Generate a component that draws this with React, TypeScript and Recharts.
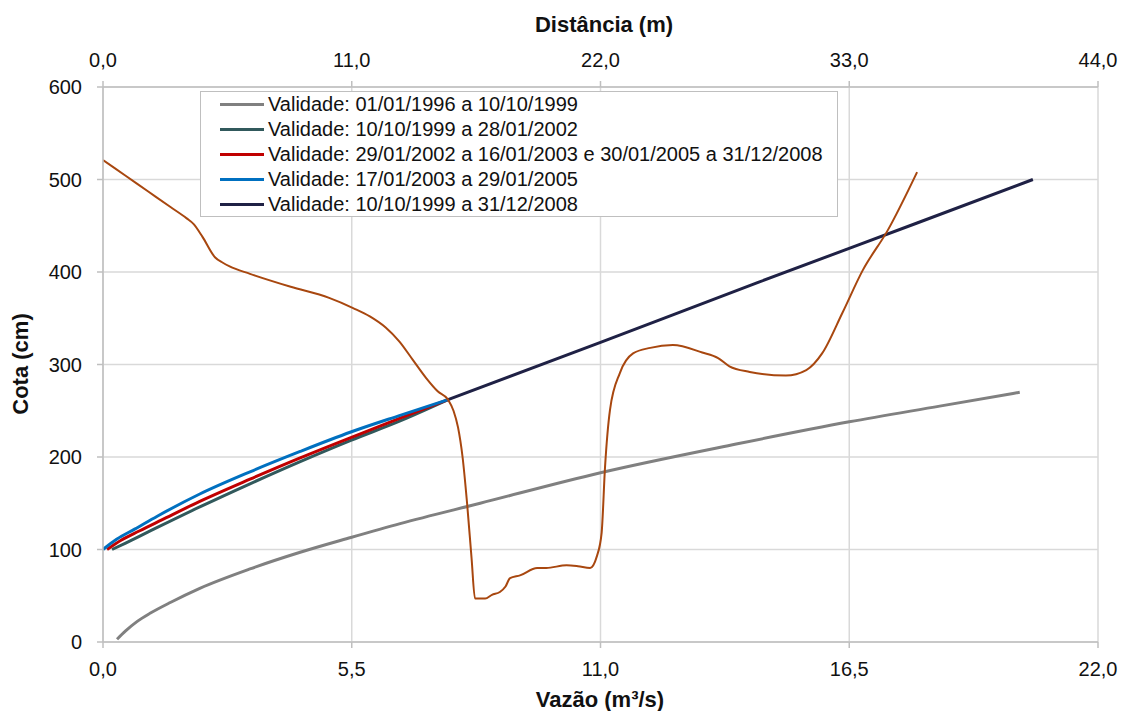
import { LineChart, Line, XAxis, YAxis, CartesianGrid, Legend, Label } from 'recharts'

// rating curves: x = vazão (m³/s), y = cota (cm)
const curve1996 = [
  { x: 0.31, y: 3 }, { x: 0.5, y: 12 }, { x: 0.75, y: 22 }, { x: 1.04, y: 31 },
  { x: 1.5, y: 43 }, { x: 2.14, y: 58 }, { x: 3.25, y: 79 }, { x: 4.36, y: 97 },
  { x: 5.48, y: 113 }, { x: 6.57, y: 128 }, { x: 8.34, y: 150 }, { x: 11.0, y: 183 },
  { x: 14.0, y: 214 }, { x: 16.5, y: 238 }, { x: 18.5, y: 255 }, { x: 20.27, y: 270 },
]
const curve1999 = [
  { x: 0.2, y: 100 }, { x: 0.5, y: 107 }, { x: 1.0, y: 119 }, { x: 2.14, y: 146 },
  { x: 3.25, y: 171 }, { x: 4.36, y: 195 }, { x: 5.48, y: 218 }, { x: 6.57, y: 239 },
  { x: 7.63, y: 262 },
]
const curve2002 = [
  { x: 0.09, y: 100 }, { x: 0.4, y: 110 }, { x: 0.8, y: 120 }, { x: 1.3, y: 132 },
  { x: 2.14, y: 152 }, { x: 3.25, y: 176 }, { x: 4.36, y: 199 }, { x: 5.48, y: 221 },
  { x: 6.57, y: 242 }, { x: 7.63, y: 262 },
]
const curve2003 = [
  { x: 0, y: 100 }, { x: 0.3, y: 111 }, { x: 0.7, y: 122 }, { x: 1.2, y: 136 },
  { x: 2.14, y: 160 }, { x: 3.25, y: 184 }, { x: 4.36, y: 206 }, { x: 5.48, y: 227 },
  { x: 6.57, y: 245 }, { x: 7.63, y: 262 },
]
const curveExt = [
  { x: 7.63, y: 262 }, { x: 11.0, y: 324 }, { x: 14.5, y: 389 }, { x: 18.0, y: 453 },
  { x: 20.56, y: 500 },
]

// cross-section: x = distância (m), y = cota (cm)
const section = [
  { x: 0, y: 521 }, { x: 1.0, y: 504 }, { x: 2.0, y: 487 }, { x: 3.0, y: 470 },
  { x: 3.7, y: 458 }, { x: 4.0, y: 452 }, { x: 4.4, y: 438 }, { x: 4.95, y: 416 },
  { x: 5.3, y: 410 }, { x: 5.6, y: 406 }, { x: 6.5, y: 398 },
  { x: 8.3, y: 384 }, { x: 10.0, y: 372 }, { x: 11.06, y: 361 }, { x: 11.8, y: 352 },
  { x: 12.5, y: 340 }, { x: 13.1, y: 325 }, { x: 13.7, y: 305 }, { x: 14.3, y: 285 },
  { x: 14.8, y: 271 }, { x: 15.26, y: 262 }, { x: 15.5, y: 250 }, { x: 15.7, y: 232 },
  { x: 15.9, y: 200 }, { x: 16.1, y: 150 }, { x: 16.3, y: 90 }, { x: 16.45, y: 47 },
  { x: 16.9, y: 47 }, { x: 17.2, y: 51 }, { x: 17.55, y: 54 }, { x: 17.8, y: 60 },
  { x: 18.0, y: 69 }, { x: 18.44, y: 72 }, { x: 19.2, y: 80 }, { x: 19.6, y: 80 },
  { x: 20.5, y: 83 }, { x: 21.0, y: 82 }, { x: 21.54, y: 80 }, { x: 21.83, y: 92 },
  { x: 22.05, y: 118 }, { x: 22.2, y: 189 }, { x: 22.42, y: 251 }, { x: 22.86, y: 291 },
  { x: 23.44, y: 312 }, { x: 24.2, y: 318 }, { x: 25.2, y: 321 }, { x: 26.5, y: 313 },
  { x: 27.2, y: 307 }, { x: 27.7, y: 298 }, { x: 28.6, y: 292 }, { x: 30.2, y: 288 },
  { x: 31.1, y: 294 }, { x: 31.8, y: 312 }, { x: 32.7, y: 356 }, { x: 33.6, y: 402 },
  { x: 34.7, y: 445 }, { x: 36.0, y: 508 },
]

const flowTicks = [0, 5.5, 11, 16.5, 22]
const distTicks = [0, 11, 22, 33, 44]
const cotaTicks = [0, 100, 200, 300, 400, 500, 600]

const SERIES = [
  { name: 'Validade: 01/01/1996 a 10/10/1999', data: curve1996, color: '#808080' },
  { name: 'Validade: 10/10/1999 a 28/01/2002', data: curve1999, color: '#31595C' },
  { name: 'Validade: 29/01/2002 a 16/01/2003 e 30/01/2005 a 31/12/2008', data: curve2002, color: '#C00000' },
  { name: 'Validade: 17/01/2003 a 29/01/2005', data: curve2003, color: '#0070C0' },
  { name: 'Validade: 10/10/1999 a 31/12/2008', data: curveExt, color: '#1F2145' },
]

const FONT = '"Liberation Sans", Arial, sans-serif'
const GRID = '#d9d9d9'
const AXIS = '#bfbfbf'
const TEXT = '#111'

const fmt = (v: number) => v.toFixed(1).replace('.', ',')

function LegendBox() {
  return (
    <div
      style={{
        border: `1px solid ${AXIS}`,
        background: '#fff',
        boxSizing: 'border-box',
        width: 638,
        height: 126,
        fontFamily: FONT,
        fontSize: 20,
        color: TEXT,
      }}
    >
      {SERIES.map((s) => (
        <div key={s.name} style={{ display: 'flex', alignItems: 'center', height: 25, whiteSpace: 'nowrap' }}>
          <span style={{ display: 'inline-block', width: 44, height: 3, background: s.color, marginLeft: 19, marginRight: 4 }} />
          <span>{s.name}</span>
        </div>
      ))}
    </div>
  )
}

export default function App() {
  const tick = { fill: TEXT, fontSize: 20, fontFamily: FONT }
  return (
    <div style={{ position: 'absolute', left: 0, top: 0, background: '#fff' }}>
      <LineChart width={1122} height={711} margin={{ top: 0, right: 24, bottom: 0, left: 0 }}>
        <CartesianGrid stroke={GRID} strokeWidth={1.5} xAxisId="q" />
        <XAxis
          xAxisId="q"
          dataKey="x"
          type="number"
          domain={[0, 22]}
          ticks={flowTicks}
          tickFormatter={fmt}
          allowDataOverflow
          height={69}
          tick={tick}
          tickSize={6}
          tickMargin={14}
          stroke={AXIS}
          strokeWidth={1.5}
        >
          <Label
            content={() => (
              <text x={600} y={707} textAnchor="middle" fontFamily={FONT} fontSize={22} fontWeight="bold" fill={TEXT}>
                Vazão (m³/s)
              </text>
            )}
          />
        </XAxis>
        <XAxis
          xAxisId="d"
          orientation="top"
          dataKey="x"
          type="number"
          domain={[0, 44]}
          ticks={distTicks}
          tickFormatter={fmt}
          allowDataOverflow
          height={87}
          tick={tick}
          tickSize={6}
          tickMargin={14}
          stroke={AXIS}
          strokeWidth={1.5}
        >
          <Label
            content={() => (
              <text x={604} y={32} textAnchor="middle" fontFamily={FONT} fontSize={22} fontWeight="bold" fill={TEXT}>
                Distância (m)
              </text>
            )}
          />
        </XAxis>
        <YAxis
          type="number"
          domain={[0, 600]}
          ticks={cotaTicks}
          width={103}
          tick={tick}
          tickSize={6}
          tickMargin={15}
          stroke={AXIS}
          strokeWidth={1.5}
        >
          <Label
            content={() => (
              <text
                x={28}
                y={364}
                transform="rotate(-90 28 364)"
                textAnchor="middle"
                fontFamily={FONT}
                fontSize={22}
                fontWeight="bold"
                fill={TEXT}
              >
                Cota (cm)
              </text>
            )}
          />
        </YAxis>
        <Legend
          layout="vertical"
          align="center"
          verticalAlign="middle"
          content={() => <LegendBox />}
          wrapperStyle={{ left: 200, top: 91, width: 638, height: 126 }}
        />
        {SERIES.map((s) => (
          <Line
            key={s.name}
            xAxisId="q"
            data={s.data}
            dataKey="y"
            name={s.name}
            type="monotone"
            stroke={s.color}
            strokeWidth={3}
            dot={false}
            activeDot={false}
            isAnimationActive={false}
          />
        ))}
        <Line
          xAxisId="d"
          data={section}
          dataKey="y"
          name="Seção"
          type="monotone"
          stroke="#A8470F"
          strokeWidth={2}
          dot={false}
          activeDot={false}
          legendType="none"
          isAnimationActive={false}
        />
      </LineChart>
    </div>
  )
}
